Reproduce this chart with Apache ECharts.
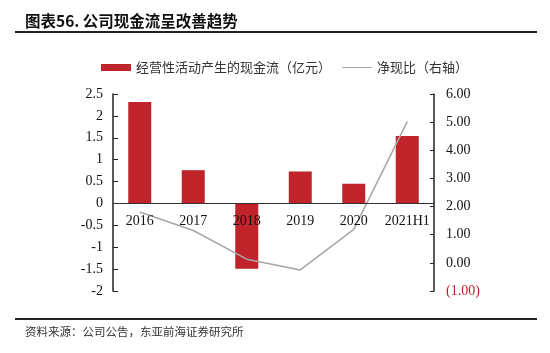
<!DOCTYPE html>
<html>
<head>
<meta charset="utf-8">
<script src="https://cdn.jsdelivr.net/npm/echarts@6/dist/echarts.min.js"></script>
<style>
  html, body { margin: 0; padding: 0; background: #fff; }
  #chart { width: 550px; height: 353px; }
</style>
</head>
<body>
<div id="chart"></div>
<script>
// 公司现金流
var years = ["2016", "2017", "2018", "2019", "2020", "2021H1"];
var cashFlow = [2.32, 0.76, -1.49, 0.73, 0.45, 1.54];   // 经营性活动产生的现金流（亿元）
var netRatio = [1.81, 1.15, 0.13, -0.25, 1.19, 5.02];   // 净现比（右轴）

var barName = "经营性活动产生的现金流（亿元）";
var lineName = "净现比（右轴）";
var serif = "'Liberation Serif', 'Times New Roman', serif";
var cjk = "'Noto Sans CJK SC', sans-serif";

var gridTop = 94, gridBottom = 62;
var gridH = 353 - gridTop - gridBottom;
// 左轴 0 的位置（-2 ~ 2.5）
var zeroOffset = -(gridH * 2 / 4.5);

var myChart = echarts.init(document.getElementById("chart"));

var option = {
    animation: false,
    backgroundColor: "#fff",
    graphic: [
        { type: "text", left: 25, top: 13,
          style: { text: "图表56. 公司现金流呈改善趋势", font: "bold 15.5px " + cjk, fill: "#111" } },
        { type: "rect", shape: { x: 15, y: 31, width: 522, height: 2 }, style: { fill: "#222" } },
        { type: "rect", shape: { x: 15, y: 318, width: 522, height: 2 }, style: { fill: "#222" } },
        { type: "text", left: 25, top: 326,
          style: { text: "资料来源：公司公告，东亚前海证券研究所", font: "11.5px " + cjk, fill: "#333" } }
    ],
    legend: {
        left: 96,
        top: 56,
        itemWidth: 30,
        itemHeight: 7,
        itemGap: 11,
        textStyle: { fontFamily: cjk, fontSize: 13, color: "#333" },
        data: [
            { name: barName, icon: "rect" },
            { name: lineName, icon: "path://M0,0 L30,0 L30,1 L0,1 Z" }
        ]
    },
    grid: { left: 113, right: 116, top: gridTop, bottom: gridBottom },
    xAxis: {
        type: "category",
        data: years,
        z: 10,
        offset: zeroOffset,
        axisLine: { onZero: false, lineStyle: { color: "#333", width: 1 } },
        axisTick: { show: false },
        axisLabel: { interval: 0, fontFamily: serif, fontSize: 14, color: "#111", margin: 11 }
    },
    yAxis: [{
        type: "value",
        min: -2,
        max: 2.5,
        interval: 0.5,
        splitLine: { show: false },
        axisLine: { show: true, lineStyle: { color: "#222", width: 1.5 } },
        axisTick: { show: true, inside: true, length: 5, lineStyle: { color: "#222" } },
        axisLabel: { fontFamily: serif, fontSize: 14, color: "#111", margin: 10 }
    }, {
        type: "value",
        min: -1,
        max: 6,
        interval: 1,
        splitLine: { show: false },
        axisLine: { show: true, lineStyle: { color: "#222", width: 1.5 } },
        axisTick: { show: true, inside: true, length: 4, lineStyle: { color: "#222" } },
        axisLabel: {
            fontFamily: serif, fontSize: 14, color: "#111", margin: 12,
            formatter: function (v) {
                if (v < 0) return "{neg|(" + Math.abs(v).toFixed(2) + ")}";
                return v.toFixed(2);
            },
            rich: { neg: { fontFamily: serif, fontSize: 14, color: "#c0202a" } }
        }
    }],
    series: [{
        name: barName,
        type: "bar",
        yAxisIndex: 0,
        barWidth: 23,
        itemStyle: { color: "#c1232b" },
        data: cashFlow
    }, {
        name: lineName,
        type: "line",
        yAxisIndex: 1,
        showSymbol: false,
        symbol: "none",
        z: 5,
        lineStyle: { color: "#a6a6a6", width: 1.5 },
        itemStyle: { color: "#a6a6a6" },
        data: netRatio
    }]
};

myChart.setOption(option);
</script>
</body>
</html>
